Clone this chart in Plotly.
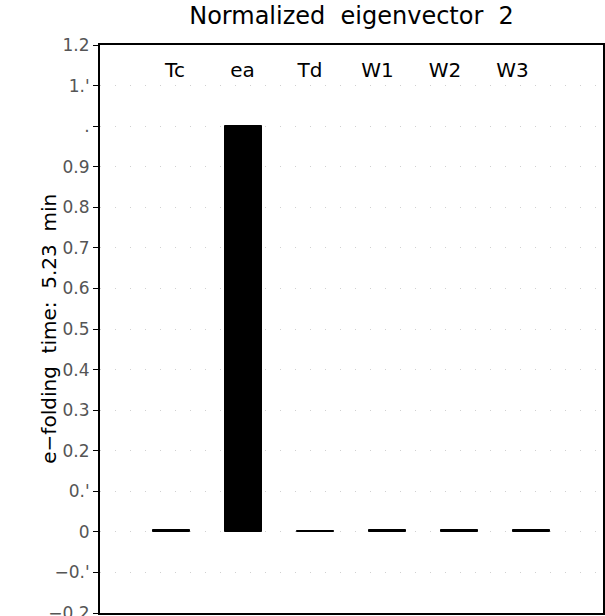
import plotly.graph_objects as go

categories = ["Tc", "ea", "Td", "W1", "W2", "W3"]
values = [0.004, 1.0, 0.003, 0.004, 0.004, 0.005]
tick_vals = [-0.2, -0.1, 0, 0.1, 0.2, 0.3, 0.4, 0.5, 0.6, 0.7, 0.8, 0.9, 1.0, 1.1, 1.2]
tick_text = ["\u22120.2", "\u22120.'", "0", "0.'", "0.2", "0.3", "0.4", "0.5", "0.6", "0.7", "0.8", "0.9", ".", "1.'", "1.2"]
title = "Normalized\u00a0 eigenvector\u00a0 2"
ylabel = "e\u2212folding\u00a0 time:\u00a0 5.23\u00a0 min"

x_idx = list(range(len(categories)))

fig = go.Figure()
fig.add_trace(go.Bar(x=x_idx, y=values, width=0.515,
                     marker=dict(color="black", line=dict(color="black", width=1)),
                     showlegend=False))
# invisible trace to activate the label axis drawn inside the top of the frame
fig.add_trace(go.Scatter(x=x_idx, y=values, xaxis="x2", mode="markers",
                         marker=dict(opacity=0), hoverinfo="skip", showlegend=False))

fig.add_annotation(x=-0.102, y=0.5, xref="paper", yref="paper", text=ylabel,
                   textangle=-90, showarrow=False, xanchor="center", yanchor="middle",
                   font=dict(family="DejaVu Sans", size=20, color="black"))

fig.update_layout(
    width=605, height=616,
    margin=dict(l=100, r=2, t=45, b=3),
    paper_bgcolor="white", plot_bgcolor="white",
    title=dict(text=title, x=0.581, xanchor="center", y=0.975, yanchor="middle",
               font=dict(family="DejaVu Sans", size=24, color="black")),
    xaxis=dict(range=[-1, 6], showticklabels=False, ticks="", showgrid=False,
               automargin=False,
               zeroline=False, showline=True, linecolor="black", linewidth=2, mirror=True),
    xaxis2=dict(overlaying="x", anchor="free", position=0.98, side="bottom",
                range=[-1.111, 6.341], automargin=False,
                tickvals=x_idx, ticktext=categories, ticks="",
                tickfont=dict(family="DejaVu Sans", size=20, color="black"),
                showgrid=False, zeroline=False, showline=False),
    yaxis=dict(range=[-0.2, 1.2], tickvals=tick_vals, ticktext=tick_text,
               automargin=False,
               ticks="outside", ticklen=5, tickcolor="black", tickwidth=1,
               ticklabeloverflow="allow",
               tickfont=dict(family="DejaVu Sans", size=17, color="#555"),
               showgrid=True, gridcolor="#d0d0d0", gridwidth=1, griddash="1px 14px",
               zeroline=False, showline=True, linecolor="black", linewidth=2, mirror=True),
    bargap=0,
)

fig.write_html("out.html")
